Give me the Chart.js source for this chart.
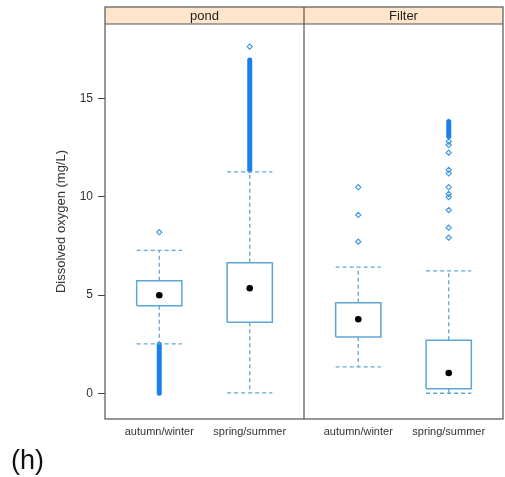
<!DOCTYPE html>
<html>
<head>
<meta charset="utf-8">
<script src="https://cdn.jsdelivr.net/npm/chart.js@4/dist/chart.umd.min.js"></script>
<style>
html,body{margin:0;padding:0;background:#fff;}
#wrap{width:505px;height:477px;}
</style>
</head>
<body>
<div id="wrap"><canvas id="c" width="505" height="477"></canvas></div>
<script>
// ---- data ----
const panels = ['pond', 'Filter'];
const categories = ['autumn/winter', 'spring/summer'];
// group order: pond-autumn/winter, pond-spring/summer, Filter-autumn/winter, Filter-spring/summer
const q1 = [4.46, 3.61, 2.87, 0.23];
const medians = [4.99, 5.35, 3.77, 1.03];
const q3 = [5.73, 6.65, 4.61, 2.70];
const whiskerLow = [2.51, 0.02, 1.34, 0.0];
const whiskerHigh = [7.28, 11.27, 6.42, 6.23];
const outliers = [
  [8.2],
  [17.65],
  [7.72, 9.08, 10.49],
  [12.81, 12.64, 12.25, 11.37, 11.2, 10.49, 10.15, 9.98, 9.33, 8.43, 7.92]
];
// dense runs of overlapping outliers (drawn as a solid band)
const denseLow = [0.0, 11.35, null, 13.07];
const denseHigh = [2.5, 16.97, null, 13.83];
const yTicks = [0, 5, 10, 15];
const yTitle = 'Dissolved oxygen (mg/L)';
const panelLabel = '(h)';

// ---- styling ----
const boxColor = '#5ea6d6';
const outColor = '#3a95e6';
const denseColor = '#1a80ea';
const frameColor = '#555555';
const stripFill = '#ffe5cc';
const panelSpan = 2.2;   // category units per panel (0.4..2.6)
const halfW = 0.25;

function pos(i) { return Math.floor(i / 2) * panelSpan + (i % 2) + 1; }

const datasets = [];
for (let i = 0; i < q1.length; i++) {
  const x = pos(i);
  // whiskers (dashed)
  datasets.push({
    type: 'line', data: [
      {x: x, y: q3[i]}, {x: x, y: whiskerHigh[i]}, {x: x, y: null},
      {x: x - halfW, y: whiskerHigh[i]}, {x: x + halfW, y: whiskerHigh[i]}, {x: x, y: null},
      {x: x, y: q1[i]}, {x: x, y: whiskerLow[i]}, {x: x, y: null},
      {x: x - halfW, y: whiskerLow[i]}, {x: x + halfW, y: whiskerLow[i]}
    ],
    borderColor: boxColor, borderWidth: 1.3, borderDash: [4, 3],
    pointRadius: 0, fill: false, spanGaps: false, tension: 0
  });
  // box
  datasets.push({
    type: 'line', data: [
      {x: x - halfW, y: q1[i]}, {x: x + halfW, y: q1[i]},
      {x: x + halfW, y: q3[i]}, {x: x - halfW, y: q3[i]}, {x: x - halfW, y: q1[i]}
    ],
    borderColor: boxColor, borderWidth: 1.5, pointRadius: 0, fill: false, tension: 0
  });
  // dense outlier band
  if (denseLow[i] !== null) {
    datasets.push({
      type: 'line', data: [{x: x, y: denseLow[i]}, {x: x, y: denseHigh[i]}],
      borderColor: denseColor, borderWidth: 5, borderCapStyle: 'round',
      pointRadius: 0, fill: false
    });
  }
  // individual outliers
  datasets.push({
    type: 'line', showLine: false,
    data: outliers[i].map(v => ({x: x, y: v})),
    pointStyle: 'rectRot', pointRadius: 2.6, pointBorderWidth: 1.1,
    pointBorderColor: outColor, pointBackgroundColor: 'rgba(255,255,255,0)'
  });
  // median dot
  datasets.push({
    type: 'line', showLine: false,
    data: [{x: x, y: medians[i]}],
    pointStyle: 'circle', pointRadius: 3.3, pointBorderWidth: 0,
    pointBackgroundColor: '#000', pointBorderColor: '#000'
  });
}

const framePlugin = {
  id: 'frame',
  afterDraw(chart) {
    const ctx = chart.ctx;
    const a = chart.chartArea;
    const xs = chart.scales.x;
    const stripH = 17;
    ctx.save();
    // strips
    for (let p = 0; p < panels.length; p++) {
      const l = xs.getPixelForValue(0.4 + p * panelSpan);
      const r = xs.getPixelForValue(0.4 + (p + 1) * panelSpan);
      ctx.fillStyle = stripFill;
      ctx.fillRect(l, a.top - stripH, r - l, stripH);
      ctx.fillStyle = '#222';
      ctx.font = '13px "Liberation Sans", Arial, sans-serif';
      ctx.textAlign = 'center';
      ctx.textBaseline = 'middle';
      ctx.fillText(panels[p], (l + r) / 2, a.top - stripH / 2 + 0.5);
    }
    ctx.strokeStyle = frameColor;
    ctx.lineWidth = 1.2;
    ctx.strokeRect(a.left, a.top - stripH, a.right - a.left, a.bottom - a.top + stripH);
    ctx.beginPath();
    ctx.moveTo(a.left, a.top); ctx.lineTo(a.right, a.top);
    const d = xs.getPixelForValue(0.4 + panelSpan);
    ctx.moveTo(d, a.top - stripH); ctx.lineTo(d, a.bottom);
    ctx.stroke();
    // category labels under each panel, placed through the x scale
    ctx.fillStyle = '#333';
    ctx.font = '11px "Liberation Sans", Arial, sans-serif';
    ctx.textAlign = 'center';
    ctx.textBaseline = 'middle';
    for (let i = 0; i < q1.length; i++) {
      ctx.fillText(categories[i % 2], xs.getPixelForValue(pos(i)), a.bottom + 13);
    }
    // panel label
    ctx.fillStyle = '#111';
    ctx.font = '27px "Liberation Sans", Arial, sans-serif';
    ctx.textAlign = 'left';
    ctx.textBaseline = 'alphabetic';
    ctx.fillText(panelLabel, 11, 469);
    ctx.restore();
  }
};

new Chart(document.getElementById('c'), {
  type: 'line',
  data: { datasets },
  options: {
    responsive: false,
    animation: false,
    layout: { autoPadding: false, padding: { left: 50, right: 2, top: 24, bottom: 0 } },
    plugins: { legend: { display: false }, tooltip: { enabled: false } },
    scales: {
      x: {
        type: 'linear', min: 0.4, max: 0.4 + panelSpan * panels.length,
        afterFit: s => { s.height = 58; },
        ticks: { display: false },
        grid: { display: false, drawTicks: false },
        border: { display: false }
      },
      y: {
        type: 'linear', min: -1.31, max: 18.8,
        afterBuildTicks: s => { s.ticks = yTicks.map(v => ({value: v})); },
        afterFit: s => { s.width = 55; },
        ticks: { color: '#333', font: { size: 12, family: '"Liberation Sans", Arial, sans-serif' }, padding: 5 },
        grid: { display: true, drawOnChartArea: false, drawTicks: true, tickLength: 7, color: '#444', lineWidth: 1 },
        border: { display: false },
        title: { display: true, text: yTitle, color: '#333',
          font: { size: 13, family: '"Liberation Sans", Arial, sans-serif' }, padding: { top: 4, bottom: 4 } }
      }
    }
  },
  plugins: [framePlugin]
});
</script>
</body>
</html>
